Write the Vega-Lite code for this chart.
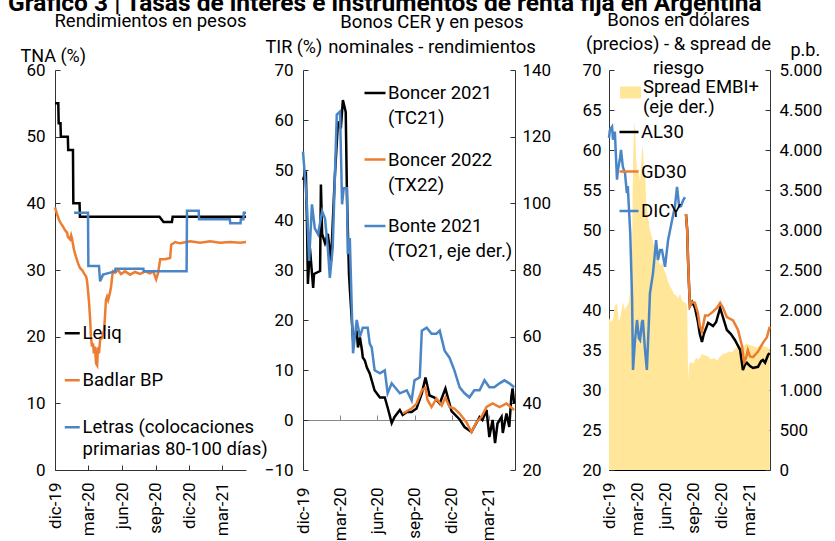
{
"$schema": "https://vega.github.io/schema/vega-lite/v6.json",
"bounds": "flush",
"spacing": 0,
"padding": {"left": 8, "top": -9, "right": 0, "bottom": 0},
"title": {"text": "Gráfico 3 | Tasas de interés e instrumentos de renta fija en Argentina", "anchor": "start", "fontSize": 24.5, "fontWeight": "bold", "font": "Roboto", "color": "#000", "dx": -12, "offset": -30, "baseline": "bottom", "lineHeight": 26},
"config": {
  "font": "Roboto",
  "view": {"stroke": null},
  "axis": {"labelFont": "Roboto", "labelFontSize": 17, "labelColor": "#000", "domainColor": "#333", "tickColor": "#333", "grid": false, "titleFont": "Roboto", "titleFontSize": 18, "titleFontWeight": "normal", "titleColor": "#000", "tickSize": -5, "labelOverlap": false},
  "legend": {"labelFont": "Roboto", "labelFontSize": 18.5, "labelColor": "#000", "title": null, "orient": "none", "labelLimit": 400, "padding": 0},
  "title": {"font": "Roboto", "fontSize": 18.5, "fontWeight": "normal", "color": "#000", "baseline": "top", "lineHeight": 24, "anchor": "middle"},
  "locale": {"number": {"decimal": ",", "thousands": ".", "grouping": [3], "currency": ["$", ""]}}
},
"datasets": {
  "p1": [
    {"s":"Leliq","d":"2019-12-01","v":55},{"s":"Leliq","d":"2019-12-10","v":55},{"s":"Leliq","d":"2019-12-11","v":52},{"s":"Leliq","d":"2019-12-16","v":52},{"s":"Leliq","d":"2019-12-17","v":50},{"s":"Leliq","d":"2020-01-05","v":50},{"s":"Leliq","d":"2020-01-06","v":48},{"s":"Leliq","d":"2020-01-19","v":48},{"s":"Leliq","d":"2020-01-20","v":40},{"s":"Leliq","d":"2020-02-06","v":40},{"s":"Leliq","d":"2020-02-07","v":38},{"s":"Leliq","d":"2020-09-11","v":38},{"s":"Leliq","d":"2020-09-22","v":37.2},{"s":"Leliq","d":"2020-10-15","v":37.2},{"s":"Leliq","d":"2020-10-17","v":38},{"s":"Leliq","d":"2021-05-05","v":38},
    {"s":"Badlar BP","d":"2019-12-01","v":39.4},{"s":"Badlar BP","d":"2019-12-06","v":38.5},{"s":"Badlar BP","d":"2019-12-12","v":37.5},{"s":"Badlar BP","d":"2019-12-17","v":37},{"s":"Badlar BP","d":"2019-12-23","v":36.5},{"s":"Badlar BP","d":"2019-12-28","v":36},{"s":"Badlar BP","d":"2020-01-03","v":35.6},{"s":"Badlar BP","d":"2020-01-05","v":35},{"s":"Badlar BP","d":"2020-01-11","v":34.6},{"s":"Badlar BP","d":"2020-01-14","v":35.2},{"s":"Badlar BP","d":"2020-01-16","v":34.8},{"s":"Badlar BP","d":"2020-01-22","v":33},{"s":"Badlar BP","d":"2020-01-27","v":32},{"s":"Badlar BP","d":"2020-02-02","v":31},{"s":"Badlar BP","d":"2020-02-07","v":30.3},{"s":"Badlar BP","d":"2020-02-13","v":30},{"s":"Badlar BP","d":"2020-02-18","v":29.5},{"s":"Badlar BP","d":"2020-02-24","v":29},{"s":"Badlar BP","d":"2020-02-26","v":28.5},{"s":"Badlar BP","d":"2020-02-29","v":27},{"s":"Badlar BP","d":"2020-03-03","v":25},{"s":"Badlar BP","d":"2020-03-06","v":22.5},{"s":"Badlar BP","d":"2020-03-08","v":20},{"s":"Badlar BP","d":"2020-03-11","v":18.5},{"s":"Badlar BP","d":"2020-03-14","v":19},{"s":"Badlar BP","d":"2020-03-16","v":17.5},{"s":"Badlar BP","d":"2020-03-19","v":18.5},{"s":"Badlar BP","d":"2020-03-22","v":16},{"s":"Badlar BP","d":"2020-03-25","v":15.7},{"s":"Badlar BP","d":"2020-03-27","v":18.4},{"s":"Badlar BP","d":"2020-03-30","v":17.5},{"s":"Badlar BP","d":"2020-04-02","v":19.5},{"s":"Badlar BP","d":"2020-04-07","v":19.8},{"s":"Badlar BP","d":"2020-04-13","v":21},{"s":"Badlar BP","d":"2020-04-16","v":23.6},{"s":"Badlar BP","d":"2020-04-18","v":25.5},{"s":"Badlar BP","d":"2020-04-21","v":26},{"s":"Badlar BP","d":"2020-04-24","v":25.5},{"s":"Badlar BP","d":"2020-04-29","v":26.6},{"s":"Badlar BP","d":"2020-05-02","v":27.5},{"s":"Badlar BP","d":"2020-05-05","v":29},{"s":"Badlar BP","d":"2020-05-07","v":29.8},{"s":"Badlar BP","d":"2020-05-13","v":29.6},{"s":"Badlar BP","d":"2020-05-21","v":30},{"s":"Badlar BP","d":"2020-05-29","v":29.4},{"s":"Badlar BP","d":"2020-06-09","v":29.8},{"s":"Badlar BP","d":"2020-06-23","v":29.3},{"s":"Badlar BP","d":"2020-07-06","v":29.7},{"s":"Badlar BP","d":"2020-07-20","v":29.4},{"s":"Badlar BP","d":"2020-08-03","v":29.8},{"s":"Badlar BP","d":"2020-08-16","v":29.5},{"s":"Badlar BP","d":"2020-08-25","v":29.8},{"s":"Badlar BP","d":"2020-09-02","v":28.6},{"s":"Badlar BP","d":"2020-09-07","v":29.5},{"s":"Badlar BP","d":"2020-09-13","v":31.6},{"s":"Badlar BP","d":"2020-09-26","v":31.6},{"s":"Badlar BP","d":"2020-10-10","v":31.8},{"s":"Badlar BP","d":"2020-10-13","v":33.8},{"s":"Badlar BP","d":"2020-10-24","v":34.2},{"s":"Badlar BP","d":"2020-11-06","v":34},{"s":"Badlar BP","d":"2020-12-04","v":34.3},{"s":"Badlar BP","d":"2020-12-31","v":34.1},{"s":"Badlar BP","d":"2021-01-27","v":34.3},{"s":"Badlar BP","d":"2021-02-23","v":34.1},{"s":"Badlar BP","d":"2021-03-23","v":34.2},{"s":"Badlar BP","d":"2021-04-19","v":34.1},{"s":"Badlar BP","d":"2021-05-05","v":34.2},
    {"s":"Letras","d":"2020-01-22","v":38.6},{"s":"Letras","d":"2020-02-29","v":38.6},{"s":"Letras","d":"2020-03-01","v":30.6},{"s":"Letras","d":"2020-03-30","v":30.6},{"s":"Letras","d":"2020-04-02","v":28.3},{"s":"Letras","d":"2020-04-10","v":29.3},{"s":"Letras","d":"2020-05-13","v":29.8},{"s":"Letras","d":"2020-05-14","v":30.2},{"s":"Letras","d":"2020-07-29","v":30.2},{"s":"Letras","d":"2020-07-30","v":29.8},{"s":"Letras","d":"2020-11-24","v":29.8},{"s":"Letras","d":"2020-11-25","v":38.9},{"s":"Letras","d":"2020-12-27","v":38.9},{"s":"Letras","d":"2020-12-28","v":37.6},{"s":"Letras","d":"2021-03-22","v":37.6},{"s":"Letras","d":"2021-03-23","v":37.0},{"s":"Letras","d":"2021-04-20","v":37.0},{"s":"Letras","d":"2021-04-21","v":37.6},{"s":"Letras","d":"2021-04-28","v":37.6},{"s":"Letras","d":"2021-04-29","v":38.6},{"s":"Letras","d":"2021-05-05","v":38.6}
  ],
  "p2l": [
    {"s":"Boncer 2021","d":"2019-12-01","v":48},{"s":"Boncer 2021","d":"2019-12-08","v":49.7},{"s":"Boncer 2021","d":"2019-12-11","v":38.4},{"s":"Boncer 2021","d":"2019-12-13","v":27.2},{"s":"Boncer 2021","d":"2019-12-18","v":34.4},{"s":"Boncer 2021","d":"2019-12-26","v":26.4},{"s":"Boncer 2021","d":"2019-12-28","v":29.2},{"s":"Boncer 2021","d":"2020-01-12","v":29.8},{"s":"Boncer 2021","d":"2020-01-14","v":47.1},{"s":"Boncer 2021","d":"2020-01-17","v":37.2},{"s":"Boncer 2021","d":"2020-01-24","v":35.4},{"s":"Boncer 2021","d":"2020-01-31","v":37.2},{"s":"Boncer 2021","d":"2020-02-08","v":31.8},{"s":"Boncer 2021","d":"2020-02-17","v":48.3},{"s":"Boncer 2021","d":"2020-02-25","v":59.7},{"s":"Boncer 2021","d":"2020-03-03","v":58.3},{"s":"Boncer 2021","d":"2020-03-08","v":64},{"s":"Boncer 2021","d":"2020-03-15","v":61.6},{"s":"Boncer 2021","d":"2020-03-18","v":45},{"s":"Boncer 2021","d":"2020-03-23","v":29.2},{"s":"Boncer 2021","d":"2020-03-25","v":26.4},{"s":"Boncer 2021","d":"2020-04-02","v":15.9},{"s":"Boncer 2021","d":"2020-04-11","v":17.9},{"s":"Boncer 2021","d":"2020-04-14","v":14.5},{"s":"Boncer 2021","d":"2020-04-19","v":16.5},{"s":"Boncer 2021","d":"2020-04-24","v":13.9},{"s":"Boncer 2021","d":"2020-04-26","v":12.5},{"s":"Boncer 2021","d":"2020-05-01","v":11.9},{"s":"Boncer 2021","d":"2020-05-06","v":10.5},{"s":"Boncer 2021","d":"2020-05-13","v":9.3},{"s":"Boncer 2021","d":"2020-05-25","v":5.9},{"s":"Boncer 2021","d":"2020-06-07","v":4.5},{"s":"Boncer 2021","d":"2020-06-19","v":4.5},{"s":"Boncer 2021","d":"2020-06-26","v":2.5},{"s":"Boncer 2021","d":"2020-07-06","v":-0.6},{"s":"Boncer 2021","d":"2020-07-13","v":0.6},{"s":"Boncer 2021","d":"2020-07-26","v":2},{"s":"Boncer 2021","d":"2020-08-02","v":1},{"s":"Boncer 2021","d":"2020-08-12","v":1.6},{"s":"Boncer 2021","d":"2020-08-24","v":1.6},{"s":"Boncer 2021","d":"2020-09-05","v":2.3},{"s":"Boncer 2021","d":"2020-09-18","v":5.3},{"s":"Boncer 2021","d":"2020-09-27","v":8.5},{"s":"Boncer 2021","d":"2020-10-07","v":4.9},{"s":"Boncer 2021","d":"2020-10-19","v":4.5},{"s":"Boncer 2021","d":"2020-11-01","v":3.3},{"s":"Boncer 2021","d":"2020-11-15","v":6.3},{"s":"Boncer 2021","d":"2020-11-30","v":1.8},{"s":"Boncer 2021","d":"2020-12-20","v":0.1},{"s":"Boncer 2021","d":"2021-01-01","v":-1.4},{"s":"Boncer 2021","d":"2021-01-18","v":-2.4},{"s":"Boncer 2021","d":"2021-02-07","v":0.6},{"s":"Boncer 2021","d":"2021-02-14","v":0},{"s":"Boncer 2021","d":"2021-02-24","v":2},{"s":"Boncer 2021","d":"2021-03-03","v":-3.4},{"s":"Boncer 2021","d":"2021-03-11","v":0},{"s":"Boncer 2021","d":"2021-03-17","v":-4.6},{"s":"Boncer 2021","d":"2021-03-23","v":-0.7},{"s":"Boncer 2021","d":"2021-04-02","v":0.6},{"s":"Boncer 2021","d":"2021-04-05","v":-2.6},{"s":"Boncer 2021","d":"2021-04-14","v":1.3},{"s":"Boncer 2021","d":"2021-04-21","v":-1.4},{"s":"Boncer 2021","d":"2021-04-26","v":4.6},{"s":"Boncer 2021","d":"2021-04-29","v":6.3},{"s":"Boncer 2021","d":"2021-05-03","v":3.3},
    {"s":"Boncer 2022","d":"2020-08-02","v":1.3},{"s":"Boncer 2022","d":"2020-08-24","v":2.3},{"s":"Boncer 2022","d":"2020-09-05","v":3.3},{"s":"Boncer 2022","d":"2020-09-18","v":5.9},{"s":"Boncer 2022","d":"2020-09-27","v":6.5},{"s":"Boncer 2022","d":"2020-10-02","v":4},{"s":"Boncer 2022","d":"2020-10-12","v":2.6},{"s":"Boncer 2022","d":"2020-10-24","v":4.3},{"s":"Boncer 2022","d":"2020-11-06","v":2.9},{"s":"Boncer 2022","d":"2020-11-15","v":4.5},{"s":"Boncer 2022","d":"2020-11-25","v":2.6},{"s":"Boncer 2022","d":"2020-12-07","v":2.3},{"s":"Boncer 2022","d":"2020-12-20","v":1.3},{"s":"Boncer 2022","d":"2021-01-06","v":-0.5},{"s":"Boncer 2022","d":"2021-01-18","v":-2.4},{"s":"Boncer 2022","d":"2021-01-30","v":-0.5},{"s":"Boncer 2022","d":"2021-02-12","v":0.7},{"s":"Boncer 2022","d":"2021-02-24","v":2.6},{"s":"Boncer 2022","d":"2021-03-11","v":3.3},{"s":"Boncer 2022","d":"2021-03-28","v":2.6},{"s":"Boncer 2022","d":"2021-04-14","v":3.3},{"s":"Boncer 2022","d":"2021-05-03","v":2}
  ],
  "p2r": [
    {"s":"Bonte 2021","d":"2019-12-01","v":115.5},{"s":"Bonte 2021","d":"2019-12-08","v":104.5},{"s":"Bonte 2021","d":"2019-12-11","v":98.5},{"s":"Bonte 2021","d":"2019-12-16","v":82.7},{"s":"Bonte 2021","d":"2019-12-23","v":99.7},{"s":"Bonte 2021","d":"2019-12-30","v":92.5},{"s":"Bonte 2021","d":"2020-01-07","v":90.7},{"s":"Bonte 2021","d":"2020-01-17","v":97.6},{"s":"Bonte 2021","d":"2020-01-24","v":95.5},{"s":"Bonte 2021","d":"2020-01-31","v":86.6},{"s":"Bonte 2021","d":"2020-02-05","v":77.6},{"s":"Bonte 2021","d":"2020-02-12","v":86.6},{"s":"Bonte 2021","d":"2020-02-22","v":126.6},{"s":"Bonte 2021","d":"2020-03-01","v":127.5},{"s":"Bonte 2021","d":"2020-03-06","v":99.7},{"s":"Bonte 2021","d":"2020-03-10","v":104.5},{"s":"Bonte 2021","d":"2020-03-18","v":104.5},{"s":"Bonte 2021","d":"2020-03-20","v":84.8},{"s":"Bonte 2021","d":"2020-03-25","v":89.6},{"s":"Bonte 2021","d":"2020-04-02","v":55},{"s":"Bonte 2021","d":"2020-04-11","v":65},{"s":"Bonte 2021","d":"2020-04-19","v":60},{"s":"Bonte 2021","d":"2020-04-26","v":62.7},{"s":"Bonte 2021","d":"2020-05-08","v":62.7},{"s":"Bonte 2021","d":"2020-05-13","v":57.9},{"s":"Bonte 2021","d":"2020-05-18","v":56.7},{"s":"Bonte 2021","d":"2020-05-25","v":49.9},{"s":"Bonte 2021","d":"2020-06-07","v":49},{"s":"Bonte 2021","d":"2020-06-19","v":49.9},{"s":"Bonte 2021","d":"2020-06-26","v":43},{"s":"Bonte 2021","d":"2020-07-06","v":46},{"s":"Bonte 2021","d":"2020-07-26","v":43},{"s":"Bonte 2021","d":"2020-08-12","v":43.9},{"s":"Bonte 2021","d":"2020-08-24","v":40.9},{"s":"Bonte 2021","d":"2020-08-31","v":46.9},{"s":"Bonte 2021","d":"2020-09-13","v":47.8},{"s":"Bonte 2021","d":"2020-09-18","v":61.8},{"s":"Bonte 2021","d":"2020-09-30","v":62.7},{"s":"Bonte 2021","d":"2020-10-12","v":60.9},{"s":"Bonte 2021","d":"2020-10-24","v":60.9},{"s":"Bonte 2021","d":"2020-11-01","v":61.8},{"s":"Bonte 2021","d":"2020-11-13","v":55.8},{"s":"Bonte 2021","d":"2020-11-25","v":53.7},{"s":"Bonte 2021","d":"2020-12-07","v":49.9},{"s":"Bonte 2021","d":"2020-12-20","v":44.8},{"s":"Bonte 2021","d":"2021-01-01","v":43},{"s":"Bonte 2021","d":"2021-01-13","v":41.8},{"s":"Bonte 2021","d":"2021-01-25","v":43.9},{"s":"Bonte 2021","d":"2021-02-07","v":43.9},{"s":"Bonte 2021","d":"2021-02-19","v":46.9},{"s":"Bonte 2021","d":"2021-03-03","v":44.8},{"s":"Bonte 2021","d":"2021-03-15","v":44.8},{"s":"Bonte 2021","d":"2021-03-28","v":46},{"s":"Bonte 2021","d":"2021-04-09","v":46.9},{"s":"Bonte 2021","d":"2021-04-21","v":46},{"s":"Bonte 2021","d":"2021-05-03","v":44.8}
  ],
  "p3a": [
    {"e":"Spread EMBI+","d":"2019-12-01","v":1900},{"e":"Spread EMBI+","d":"2019-12-07","v":1850},{"e":"Spread EMBI+","d":"2019-12-14","v":1880},{"e":"Spread EMBI+","d":"2019-12-20","v":2050},{"e":"Spread EMBI+","d":"2019-12-27","v":2080},{"e":"Spread EMBI+","d":"2020-01-02","v":1850},{"e":"Spread EMBI+","d":"2020-01-09","v":1950},{"e":"Spread EMBI+","d":"2020-01-15","v":2100},{"e":"Spread EMBI+","d":"2020-01-22","v":2000},{"e":"Spread EMBI+","d":"2020-01-28","v":2050},{"e":"Spread EMBI+","d":"2020-02-04","v":2100},{"e":"Spread EMBI+","d":"2020-02-10","v":2300},{"e":"Spread EMBI+","d":"2020-02-14","v":2800},{"e":"Spread EMBI+","d":"2020-02-17","v":3800},{"e":"Spread EMBI+","d":"2020-02-20","v":4250},{"e":"Spread EMBI+","d":"2020-02-23","v":4350},{"e":"Spread EMBI+","d":"2020-02-27","v":3900},{"e":"Spread EMBI+","d":"2020-03-01","v":3700},{"e":"Spread EMBI+","d":"2020-03-04","v":3800},{"e":"Spread EMBI+","d":"2020-03-11","v":3600},{"e":"Spread EMBI+","d":"2020-03-17","v":4000},{"e":"Spread EMBI+","d":"2020-03-20","v":4050},{"e":"Spread EMBI+","d":"2020-03-24","v":3700},{"e":"Spread EMBI+","d":"2020-03-27","v":3800},{"e":"Spread EMBI+","d":"2020-03-30","v":3400},{"e":"Spread EMBI+","d":"2020-04-02","v":3300},{"e":"Spread EMBI+","d":"2020-04-06","v":3150},{"e":"Spread EMBI+","d":"2020-04-12","v":3000},{"e":"Spread EMBI+","d":"2020-04-19","v":2900},{"e":"Spread EMBI+","d":"2020-04-25","v":2800},{"e":"Spread EMBI+","d":"2020-05-02","v":2700},{"e":"Spread EMBI+","d":"2020-05-08","v":2650},{"e":"Spread EMBI+","d":"2020-05-15","v":2550},{"e":"Spread EMBI+","d":"2020-05-21","v":2600},{"e":"Spread EMBI+","d":"2020-05-28","v":2500},{"e":"Spread EMBI+","d":"2020-06-03","v":2450},{"e":"Spread EMBI+","d":"2020-06-10","v":2350},{"e":"Spread EMBI+","d":"2020-06-16","v":2300},{"e":"Spread EMBI+","d":"2020-06-23","v":2250},{"e":"Spread EMBI+","d":"2020-06-29","v":2200},{"e":"Spread EMBI+","d":"2020-07-06","v":2180},{"e":"Spread EMBI+","d":"2020-07-12","v":2150},{"e":"Spread EMBI+","d":"2020-07-19","v":2200},{"e":"Spread EMBI+","d":"2020-07-25","v":2120},{"e":"Spread EMBI+","d":"2020-08-01","v":2100},{"e":"Spread EMBI+","d":"2020-08-07","v":2080},{"e":"Spread EMBI+","d":"2020-08-11","v":2050},{"e":"Spread EMBI+","d":"2020-08-14","v":1120},{"e":"Spread EMBI+","d":"2020-08-17","v":1300},{"e":"Spread EMBI+","d":"2020-08-20","v":1350},{"e":"Spread EMBI+","d":"2020-08-30","v":1330},{"e":"Spread EMBI+","d":"2020-09-09","v":1400},{"e":"Spread EMBI+","d":"2020-09-18","v":1380},{"e":"Spread EMBI+","d":"2020-09-28","v":1450},{"e":"Spread EMBI+","d":"2020-10-08","v":1430},{"e":"Spread EMBI+","d":"2020-10-18","v":1420},{"e":"Spread EMBI+","d":"2020-10-27","v":1380},{"e":"Spread EMBI+","d":"2020-11-06","v":1400},{"e":"Spread EMBI+","d":"2020-11-16","v":1370},{"e":"Spread EMBI+","d":"2020-11-26","v":1420},{"e":"Spread EMBI+","d":"2020-12-05","v":1450},{"e":"Spread EMBI+","d":"2020-12-15","v":1460},{"e":"Spread EMBI+","d":"2020-12-25","v":1480},{"e":"Spread EMBI+","d":"2021-01-04","v":1470},{"e":"Spread EMBI+","d":"2021-01-13","v":1520},{"e":"Spread EMBI+","d":"2021-01-23","v":1530},{"e":"Spread EMBI+","d":"2021-02-02","v":1550},{"e":"Spread EMBI+","d":"2021-02-12","v":1560},{"e":"Spread EMBI+","d":"2021-02-21","v":1580},{"e":"Spread EMBI+","d":"2021-03-03","v":1560},{"e":"Spread EMBI+","d":"2021-03-13","v":1550},{"e":"Spread EMBI+","d":"2021-03-23","v":1530},{"e":"Spread EMBI+","d":"2021-04-01","v":1550},{"e":"Spread EMBI+","d":"2021-04-11","v":1560},{"e":"Spread EMBI+","d":"2021-04-21","v":1540},{"e":"Spread EMBI+","d":"2021-05-01","v":1530},{"e":"Spread EMBI+","d":"2021-05-06","v":1520}
  ],
  "p3l": [
    {"s":"AL30","d":"2020-08-07","v":52},{"s":"AL30","d":"2020-08-11","v":50},{"s":"AL30","d":"2020-08-14","v":46},{"s":"AL30","d":"2020-08-17","v":43},{"s":"AL30","d":"2020-08-20","v":40.5},{"s":"AL30","d":"2020-08-27","v":41},{"s":"AL30","d":"2020-09-05","v":40.3},{"s":"AL30","d":"2020-09-15","v":38.5},{"s":"AL30","d":"2020-09-21","v":37},{"s":"AL30","d":"2020-09-28","v":36},{"s":"AL30","d":"2020-10-04","v":37},{"s":"AL30","d":"2020-10-18","v":38.4},{"s":"AL30","d":"2020-11-03","v":38},{"s":"AL30","d":"2020-11-13","v":38.5},{"s":"AL30","d":"2020-11-26","v":40.25},{"s":"AL30","d":"2020-12-02","v":39.5},{"s":"AL30","d":"2020-12-18","v":37.5},{"s":"AL30","d":"2020-12-31","v":37},{"s":"AL30","d":"2021-01-13","v":36.25},{"s":"AL30","d":"2021-01-30","v":35},{"s":"AL30","d":"2021-02-08","v":32.5},{"s":"AL30","d":"2021-02-15","v":33.2},{"s":"AL30","d":"2021-02-21","v":33.4},{"s":"AL30","d":"2021-03-03","v":33},{"s":"AL30","d":"2021-03-13","v":32.75},{"s":"AL30","d":"2021-03-29","v":32.9},{"s":"AL30","d":"2021-04-08","v":33.6},{"s":"AL30","d":"2021-04-14","v":33.75},{"s":"AL30","d":"2021-04-21","v":33.4},{"s":"AL30","d":"2021-05-01","v":34.4},{"s":"AL30","d":"2021-05-06","v":34.6},
    {"s":"GD30","d":"2020-08-07","v":52},{"s":"GD30","d":"2020-08-11","v":50},{"s":"GD30","d":"2020-08-14","v":46},{"s":"GD30","d":"2020-08-17","v":43},{"s":"GD30","d":"2020-08-20","v":40.5},{"s":"GD30","d":"2020-08-27","v":41},{"s":"GD30","d":"2020-09-05","v":40.9},{"s":"GD30","d":"2020-09-15","v":39.6},{"s":"GD30","d":"2020-09-21","v":38},{"s":"GD30","d":"2020-09-28","v":37.3},{"s":"GD30","d":"2020-10-08","v":39.3},{"s":"GD30","d":"2020-10-18","v":39.3},{"s":"GD30","d":"2020-11-03","v":39.8},{"s":"GD30","d":"2020-11-16","v":40.3},{"s":"GD30","d":"2020-11-26","v":40.9},{"s":"GD30","d":"2020-12-05","v":40.3},{"s":"GD30","d":"2020-12-18","v":39.1},{"s":"GD30","d":"2021-01-07","v":38.7},{"s":"GD30","d":"2021-01-23","v":37.5},{"s":"GD30","d":"2021-02-05","v":35.5},{"s":"GD30","d":"2021-02-12","v":33.5},{"s":"GD30","d":"2021-02-18","v":34},{"s":"GD30","d":"2021-02-24","v":35},{"s":"GD30","d":"2021-03-03","v":34.2},{"s":"GD30","d":"2021-03-13","v":34.1},{"s":"GD30","d":"2021-03-29","v":34.8},{"s":"GD30","d":"2021-04-14","v":35.9},{"s":"GD30","d":"2021-04-27","v":36.6},{"s":"GD30","d":"2021-05-06","v":37.9},
    {"s":"DICY","d":"2019-12-01","v":61.5},{"s":"DICY","d":"2019-12-04","v":62.5},{"s":"DICY","d":"2019-12-11","v":62.9},{"s":"DICY","d":"2019-12-14","v":61.3},{"s":"DICY","d":"2019-12-20","v":62.3},{"s":"DICY","d":"2019-12-27","v":56.3},{"s":"DICY","d":"2019-12-30","v":57.5},{"s":"DICY","d":"2020-01-06","v":59},{"s":"DICY","d":"2020-01-09","v":60},{"s":"DICY","d":"2020-01-15","v":57.9},{"s":"DICY","d":"2020-01-22","v":57.1},{"s":"DICY","d":"2020-01-28","v":54.6},{"s":"DICY","d":"2020-01-31","v":55.5},{"s":"DICY","d":"2020-02-08","v":49.6},{"s":"DICY","d":"2020-02-14","v":41.3},{"s":"DICY","d":"2020-02-17","v":32.5},{"s":"DICY","d":"2020-02-23","v":36},{"s":"DICY","d":"2020-03-01","v":38.75},{"s":"DICY","d":"2020-03-07","v":36.5},{"s":"DICY","d":"2020-03-11","v":36.25},{"s":"DICY","d":"2020-03-17","v":38.5},{"s":"DICY","d":"2020-03-20","v":38.75},{"s":"DICY","d":"2020-03-27","v":35},{"s":"DICY","d":"2020-04-02","v":32.5},{"s":"DICY","d":"2020-04-09","v":39},{"s":"DICY","d":"2020-04-12","v":42.1},{"s":"DICY","d":"2020-04-22","v":44.6},{"s":"DICY","d":"2020-05-02","v":48.75},{"s":"DICY","d":"2020-05-08","v":46.25},{"s":"DICY","d":"2020-05-15","v":47.5},{"s":"DICY","d":"2020-05-21","v":47.5},{"s":"DICY","d":"2020-05-31","v":45.4},{"s":"DICY","d":"2020-06-10","v":48.75},{"s":"DICY","d":"2020-06-23","v":51.25},{"s":"DICY","d":"2020-07-02","v":52.9},{"s":"DICY","d":"2020-07-09","v":55.4},{"s":"DICY","d":"2020-07-16","v":52.9},{"s":"DICY","d":"2020-07-22","v":53},{"s":"DICY","d":"2020-07-29","v":53.75},{"s":"DICY","d":"2020-08-04","v":54.1}
  ]
},
"resolve": {"scale": {"color": "independent", "fill": "independent", "stroke": "independent"}},
"hconcat": [
  {
    "width": 191, "height": 400,
    "title": {"text": "Rendimientos en pesos", "offset": 17},
    "data": {"name": "p1"},
    "mark": {"type": "line", "strokeWidth": 2.5},
    "encoding": {
      "x": {"field": "d", "type": "temporal", "scale": {"type": "utc", "domain": [{"year": 2019, "month": 12, "date": 1, "utc": true}, {"year": 2021, "month": 5, "date": 5, "utc": true}]},
        "axis": {"title": null, "values": [{"year": 2019, "month": 12, "date": 1, "utc": true}, {"year": 2020, "month": 3, "date": 1, "utc": true}, {"year": 2020, "month": 6, "date": 1, "utc": true}, {"year": 2020, "month": 9, "date": 1, "utc": true}, {"year": 2020, "month": 12, "date": 1, "utc": true}, {"year": 2021, "month": 3, "date": 1, "utc": true}],
          "labelExpr": "['ene','feb','mar','abr','may','jun','jul','ago','sep','oct','nov','dic'][utcmonth(datum.value)] + '-' + utcFormat(datum.value, '%y')", "labelAngle": 270, "labelPadding": 17}},
      "y": {"field": "v", "type": "quantitative", "scale": {"domain": [0, 60]},
        "axis": {"values": [0, 10, 20, 30, 40, 50, 60], "title": "TNA (%)", "titleAngle": 0, "titleAlign": "left", "titleBaseline": "alphabetic", "titleX": -35, "titleY": -9, "labelPadding": 15}},
      "color": {"field": "s", "type": "nominal", "scale": {"domain": ["Leliq", "Badlar BP", "Letras"], "range": ["#000000", "#ED7D31", "#4A86C6"]},
        "legend": {"legendX": 8, "legendY": 254, "symbolType": "stroke", "symbolSize": 225, "symbolStrokeWidth": 2.5, "labelOffset": 1, "rowPadding": 28, "labelBaseline": "alphabetic",
          "labelExpr": "datum.label == 'Letras' ? ['Letras (colocaciones', 'primarias 80-100 días)'] : datum.label",
          "encode": {"labels": {"update": {"dy": {"value": 6}, "lineHeight": {"value": 22}}}}}}
    }
  },
  {"width": 57, "height": 400, "data": {"values": [{"a": 1}]}, "mark": {"type": "point", "opacity": 0}},
  {
    "width": 212, "height": 400,
    "title": {"text": ["Bonos CER y en pesos", "nominales - rendimientos"], "offset": -18, "dx": 23, "lineHeight": 25},
    "layer": [
      {
        "data": {"name": "p2l"},
        "mark": {"type": "line", "strokeWidth": 2.5},
        "encoding": {
          "x": {"field": "d", "type": "temporal", "scale": {"type": "utc", "domain": [{"year": 2019, "month": 12, "date": 1, "utc": true}, {"year": 2021, "month": 5, "date": 5, "utc": true}]},
            "axis": {"orient": "bottom", "title": null, "domain": false, "ticks": false, "values": [{"year": 2019, "month": 12, "date": 1, "utc": true}, {"year": 2020, "month": 3, "date": 1, "utc": true}, {"year": 2020, "month": 6, "date": 1, "utc": true}, {"year": 2020, "month": 9, "date": 1, "utc": true}, {"year": 2020, "month": 12, "date": 1, "utc": true}, {"year": 2021, "month": 3, "date": 1, "utc": true}],
              "labelExpr": "['ene','feb','mar','abr','may','jun','jul','ago','sep','oct','nov','dic'][utcmonth(datum.value)] + '-' + utcFormat(datum.value, '%y')", "labelAngle": 270, "labelPadding": 17}},
          "y": {"field": "v", "type": "quantitative", "scale": {"domain": [-10, 70]},
            "axis": {"values": [-10, 0, 10, 20, 30, 40, 50, 60, 70], "title": "TIR (%)", "titleAngle": 0, "titleAlign": "left", "titleBaseline": "alphabetic", "titleX": -38, "titleY": -18, "labelPadding": 15}},
          "color": {"field": "s", "type": "nominal", "scale": {"domain": ["Boncer 2021", "Boncer 2022", "Bonte 2021"], "range": ["#000000", "#ED7D31", "#4A86C6"]},
            "legend": {"legendX": 60, "legendY": 11, "symbolType": "stroke", "symbolSize": 441, "symbolStrokeWidth": 2.5, "labelOffset": 1, "rowPadding": 19.5, "labelBaseline": "alphabetic",
              "labelExpr": "datum.label == 'Boncer 2021' ? ['Boncer 2021', '(TC21)'] : datum.label == 'Boncer 2022' ? ['Boncer 2022', '(TX22)'] : ['Bonte 2021', '(TO21, eje der.)']",
              "encode": {"labels": {"update": {"dy": {"value": 6}, "lineHeight": {"value": 25}}}}}}
        }
      },
      {
        "data": {"name": "p2r"},
        "mark": {"type": "line", "strokeWidth": 2.5},
        "encoding": {
          "x": {"field": "d", "type": "temporal",
            "axis": {"orient": "bottom", "title": null, "labels": false, "offset": -50, "domainColor": "#888", "tickColor": "#888", "values": [{"year": 2019, "month": 12, "date": 1, "utc": true}, {"year": 2020, "month": 3, "date": 1, "utc": true}, {"year": 2020, "month": 6, "date": 1, "utc": true}, {"year": 2020, "month": 9, "date": 1, "utc": true}, {"year": 2020, "month": 12, "date": 1, "utc": true}, {"year": 2021, "month": 3, "date": 1, "utc": true}]}},
          "y": {"field": "v", "type": "quantitative", "scale": {"domain": [20, 140]},
            "axis": {"orient": "right", "values": [20, 40, 60, 80, 100, 120, 140], "title": null, "labelPadding": 12}},
          "color": {"field": "s", "type": "nominal"}
        }
      }
    ],
    "resolve": {"scale": {"y": "independent"}, "axis": {"x": "independent"}}
  },
  {"width": 94, "height": 400, "data": {"values": [{"a": 1}]}, "mark": {"type": "point", "opacity": 0}},
  {
    "width": 161, "height": 400,
    "title": {"text": ["Bonos en dólares", "(precios) -  & spread de", "riesgo"], "offset": -36, "dx": -11, "lineHeight": 24},
    "layer": [
      {
        "data": {"name": "p3a"},
        "mark": {"type": "area", "opacity": 1},
        "encoding": {
          "x": {"field": "d", "type": "temporal", "scale": {"type": "utc", "domain": [{"year": 2019, "month": 12, "date": 1, "utc": true}, {"year": 2021, "month": 5, "date": 7, "utc": true}]},
            "axis": {"title": null, "domainColor": "#000", "values": [{"year": 2019, "month": 12, "date": 1, "utc": true}, {"year": 2020, "month": 3, "date": 1, "utc": true}, {"year": 2020, "month": 6, "date": 1, "utc": true}, {"year": 2020, "month": 9, "date": 1, "utc": true}, {"year": 2020, "month": 12, "date": 1, "utc": true}, {"year": 2021, "month": 3, "date": 1, "utc": true}],
              "labelExpr": "['ene','feb','mar','abr','may','jun','jul','ago','sep','oct','nov','dic'][utcmonth(datum.value)] + '-' + utcFormat(datum.value, '%y')", "labelAngle": 270, "labelPadding": 17}},
          "y": {"field": "v", "type": "quantitative", "scale": {"domain": [0, 5000]},
            "axis": {"orient": "right", "values": [0, 500, 1000, 1500, 2000, 2500, 3000, 3500, 4000, 4500, 5000], "format": ",.0f", "title": "p.b.", "titleAngle": 0, "titleAlign": "left", "titleBaseline": "alphabetic", "titleX": 20, "titleY": -15, "labelPadding": 14}},
          "fill": {"field": "e", "type": "nominal", "scale": {"domain": ["Spread EMBI+"], "range": ["#FFE699"]},
            "legend": {"legendX": 11, "legendY": 12, "symbolType": "M-1,-0.57H1V0.57H-1Z", "symbolSize": 441, "symbolStrokeWidth": 0, "labelOffset": 2, "labelBaseline": "alphabetic",
              "labelExpr": "['Spread EMBI+', '(eje der.)']",
              "encode": {"labels": {"update": {"dy": {"value": 6}, "lineHeight": {"value": 23}}}}}}
        }
      },
      {
        "data": {"name": "p3l"},
        "mark": {"type": "line", "strokeWidth": 2.5},
        "encoding": {
          "x": {"field": "d", "type": "temporal",
            "axis": {"title": null, "domainColor": "#000", "values": [{"year": 2019, "month": 12, "date": 1, "utc": true}, {"year": 2020, "month": 3, "date": 1, "utc": true}, {"year": 2020, "month": 6, "date": 1, "utc": true}, {"year": 2020, "month": 9, "date": 1, "utc": true}, {"year": 2020, "month": 12, "date": 1, "utc": true}, {"year": 2021, "month": 3, "date": 1, "utc": true}],
              "labelExpr": "['ene','feb','mar','abr','may','jun','jul','ago','sep','oct','nov','dic'][utcmonth(datum.value)] + '-' + utcFormat(datum.value, '%y')", "labelAngle": 270, "labelPadding": 17}},
          "y": {"field": "v", "type": "quantitative", "scale": {"domain": [20, 70]},
            "axis": {"values": [20, 25, 30, 35, 40, 45, 50, 55, 60, 65, 70], "title": null, "labelPadding": 13}},
          "stroke": {"field": "s", "type": "nominal", "scale": {"domain": ["AL30", "GD30", "DICY"], "range": ["#000000", "#ED7D31", "#4A86C6"]},
            "legend": {"legendX": 9, "legendY": 51, "symbolType": "stroke", "symbolSize": 361, "symbolStrokeWidth": 2.5, "labelOffset": 1, "rowPadding": 18.5, "labelBaseline": "alphabetic",
              "encode": {"labels": {"update": {"dy": {"value": 6}, "lineHeight": {"value": 23}}}}}}
        }
      }
    ],
    "resolve": {"scale": {"y": "independent"}}
  }
]
}
